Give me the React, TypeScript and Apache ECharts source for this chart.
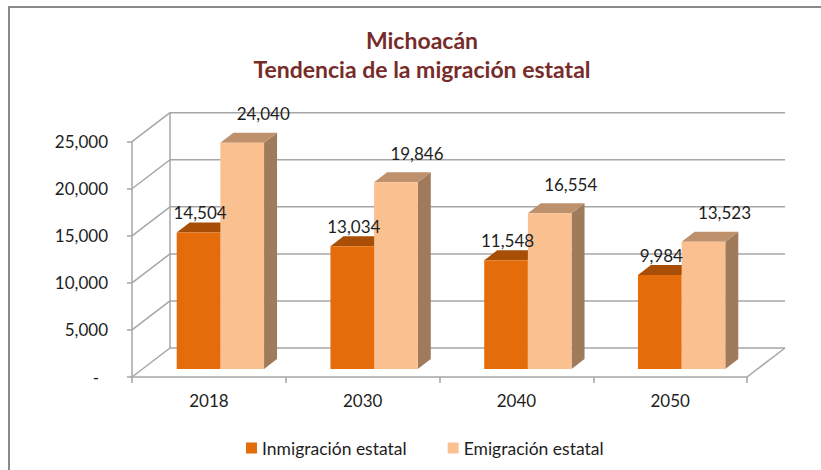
import React, { useEffect, useRef } from 'react';
import * as echarts from 'echarts';

const categories = ['2018', '2030', '2040', '2050'];
const inmigracion = [14504, 13034, 11548, 9984];
const emigracion = [24040, 19846, 16554, 13523];
const yTicks = [0, 5000, 10000, 15000, 20000, 25000];
const seriesNames = ['Inmigración estatal', 'Emigración estatal'];
const titleLines = ['Michoacán', 'Tendencia de la migración estatal'];

const DEPTH = [38, -29];
const BAR_FRONT = [10.5, -8];
const BAR_DEPTH = [13, -10];
const GRID_COLOR = '#a6a6a6';
const FONT = 'Lato, "Open Sans", sans-serif';
const TEXT_COLOR = '#1e1e1e';

const FRONT_COLORS = ['#E46C0A', '#FAC090'];
const TOP_COLORS = ['#A94E06', '#BE906C'];
const SIDE_COLORS = ['#B55808', '#9F7B5B'];

const fmt = (v: number) => v.toLocaleString('en-US');

function barGeom(api: any, ci: number, v: number, s: number) {
  const [cx, y0] = api.coord([ci, 0]);
  const yv = api.coord([ci, v])[1];
  const band = api.size([1, 0])[0];
  const w = band * 0.284;
  const c = cx + BAR_FRONT[0] + 1;
  const L = s === 0 ? c - w : c;
  const R = L + w;
  const top = yv + BAR_FRONT[1];
  const bot = y0 + BAR_FRONT[1];
  return { L, R, top, bot };
}

export default function App() {
  const ref = useRef<HTMLDivElement>(null);
  useEffect(() => {
    document.body.style.margin = '0';
    const chart = echarts.init(ref.current!, null, { renderer: 'svg' });
    const line = (x1: number, y1: number, x2: number, y2: number) => ({
      type: 'line',
      shape: { x1, y1, x2, y2 },
      style: { stroke: GRID_COLOR, lineWidth: 1.5 },
    });

    const wallSeries: any = {
      type: 'custom',
      z: 1,
      silent: true,
      data: [[0, 0]],
      renderItem: (params: any, api: any) => {
        const cs = params.coordSys;
        const x0 = cs.x;
        const x1 = cs.x + cs.width;
        const [dx, dy] = DEPTH;
        const children: any[] = [];
        yTicks.forEach((v) => {
          const y = api.coord([0, v])[1];
          children.push(line(x0, y, x0 + dx, y + dy));
          children.push(line(x0 + dx, y + dy, x1 + dx, y + dy));
        });
        const yb = api.coord([0, yTicks[0]])[1];
        const yt = api.coord([0, yTicks[yTicks.length - 1]])[1];
        children.push(line(x0 + dx, yb + dy, x0 + dx, yt + dy));
        children.push(line(x1, yb, x1 + dx, yb + dy));
        return { type: 'group', children };
      },
    };

    const makeBarSeries = (s: number, values: number[]): any => ({
      type: 'custom',
      name: seriesNames[s],
      z: 2 + s,
      itemStyle: { color: FRONT_COLORS[s] },
      data: values.map((v, i) => [i, v]),
      renderItem: (params: any, api: any) => {
        const ci = api.value(0);
        const v = api.value(1);
        const { L, R, top, bot } = barGeom(api, ci, v, s);
        const [bx, by] = BAR_DEPTH;
        return {
          type: 'group',
          children: [
            {
              type: 'polygon',
              shape: { points: [[R, top], [R + bx, top + by], [R + bx, bot + by], [R, bot]] },
              style: { fill: SIDE_COLORS[s] },
            },
            {
              type: 'polygon',
              shape: { points: [[L, top], [R, top], [R + bx, top + by], [L + bx, top + by]] },
              style: { fill: TOP_COLORS[s] },
            },
            {
              type: 'rect',
              shape: { x: L, y: top, width: R - L, height: bot - top },
              style: { fill: FRONT_COLORS[s] },
            },
          ],
        };
      },
    });

    const labelSeries: any = {
      type: 'custom',
      z: 10,
      silent: true,
      data: categories.map((c, i) => [i, inmigracion[i], emigracion[i]]),
      renderItem: (params: any, api: any) => {
        const ci = api.value(0);
        const vals = [api.value(1), api.value(2)];
        const offs = [[1.5, -20], [21, -29]];
        const children = vals.map((v: number, s: number) => {
          const g = barGeom(api, ci, v, s);
          return {
            type: 'text',
            x: (g.L + g.R) / 2 + offs[s][0],
            y: g.top + offs[s][1],
            style: {
              text: fmt(v),
              textAlign: 'center',
              textVerticalAlign: 'middle',
              fill: TEXT_COLOR,
              fontSize: 17,
              fontFamily: FONT,
            },
          };
        });
        return { type: 'group', children };
      },
    };

    chart.setOption({
      animation: false,
      backgroundColor: '#ffffff',
      textStyle: { fontFamily: FONT },
      grid: { left: 132, right: 74, top: 141.7, bottom: 93, containLabel: false, outerBoundsMode: 'none' },
      legend: {
        data: seriesNames,
        left: 241,
        top: 434,
        icon: 'rect',
        itemWidth: 11,
        itemHeight: 11,
        itemGap: 41,
        selectedMode: false,
        textStyle: { fontSize: 17.5, color: TEXT_COLOR, fontFamily: FONT },
      },
      xAxis: {
        type: 'category',
        data: categories,
        boundaryGap: true,
        axisLine: { show: true, lineStyle: { color: GRID_COLOR, width: 1.5 } },
        axisTick: { show: true, length: 6, lineStyle: { color: GRID_COLOR, width: 1.5 } },
        axisLabel: { margin: 15, fontSize: 17, color: TEXT_COLOR, fontFamily: FONT },
        splitLine: { show: false },
      },
      yAxis: {
        type: 'value',
        min: 0,
        max: 25000,
        interval: 5000,
        axisLine: { show: true, lineStyle: { color: GRID_COLOR, width: 1.5 } },
        axisTick: { show: true, length: 5, lineStyle: { color: GRID_COLOR, width: 1.5 } },
        splitLine: { show: false },
        axisLabel: {
          margin: 24,
          fontSize: 17,
          color: TEXT_COLOR,
          fontFamily: FONT,
          formatter: (v: number) => (v === 0 ? '{z|-}' : fmt(v)),
          rich: { z: { padding: [0, 9, 0, 0], fontSize: 17, color: TEXT_COLOR, fontFamily: FONT } },
        },
      },
      graphic: [
        {
          type: 'rect',
          shape: { x: 9, y: 7, width: 900, height: 500 },
          style: { fill: 'none', stroke: '#8a8a8a', lineWidth: 2 },
          silent: true,
        },
        ...titleLines.map((t, i) => ({
          type: 'text',
          x: 422,
          y: 40 + i * 29,
          style: {
            text: t,
            textAlign: 'center',
            textVerticalAlign: 'middle',
            fill: '#772C2A',
            fontSize: 23,
            fontWeight: 'bold',
            fontFamily: FONT,
          },
        })),
      ],
      series: [wallSeries, makeBarSeries(0, inmigracion), makeBarSeries(1, emigracion), labelSeries],
    });
    return () => chart.dispose();
  }, []);
  return <div ref={ref} style={{ width: 821, height: 470 }} />;
}
